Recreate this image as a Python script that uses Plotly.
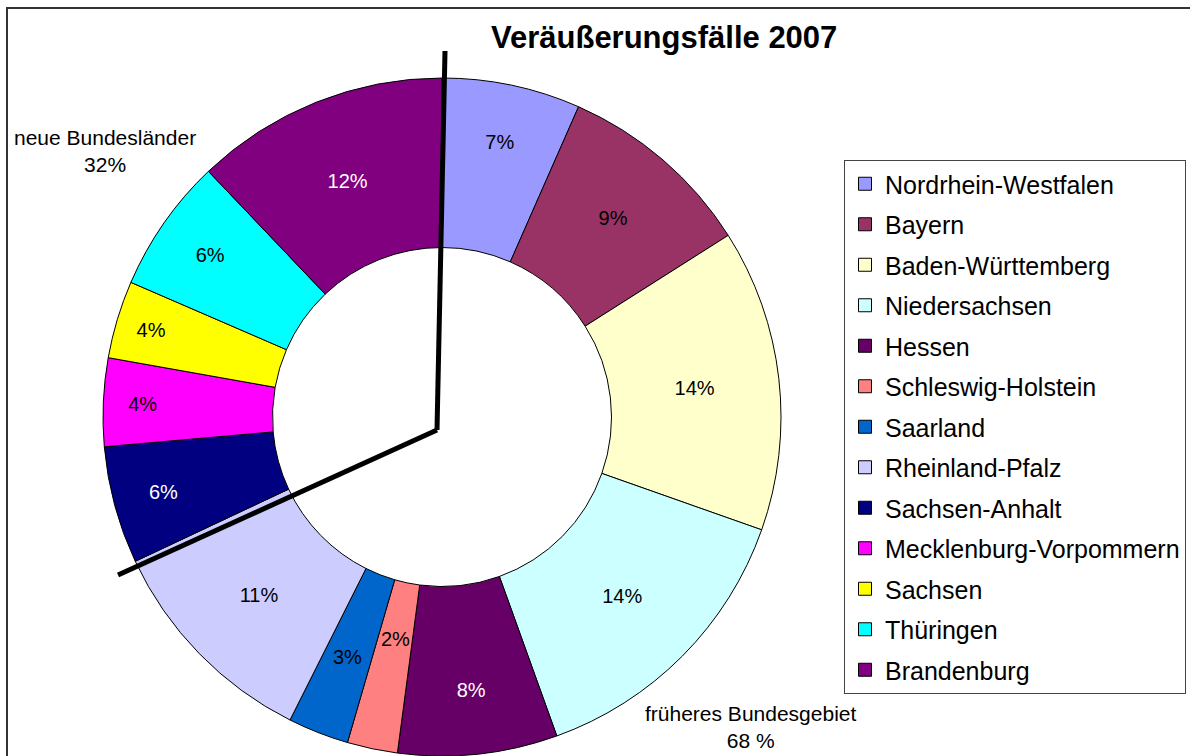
import math
import plotly.graph_objects as go

# ---- data ----
laender = ["Nordrhein-Westfalen", "Bayern", "Baden-Württemberg", "Niedersachsen",
           "Hessen", "Schleswig-Holstein", "Saarland", "Rheinland-Pfalz",
           "Sachsen-Anhalt", "Mecklenburg-Vorpommern", "Sachsen", "Thüringen",
           "Brandenburg"]
anteile = [6.6, 9.4, 14.4, 14.1, 7.6, 2.4, 2.9, 10.6, 5.6, 4.2, 3.7, 6.4, 12.1]
farben = ["#9999FF", "#993366", "#FFFFCC", "#CCFFFF", "#660066", "#FF8080",
          "#0066CC", "#CCCCFF", "#000080", "#FF00FF", "#FFFF00", "#00FFFF",
          "#800080"]
textfarben = ["#000000", "#000000", "#000000", "#000000", "#FFFFFF", "#000000",
              "#000000", "#000000", "#FFFFFF", "#000000", "#000000", "#000000",
              "#FFFFFF"]
n_alt = 8  # first 8 Länder = früheres Bundesgebiet
titel = "Veräußerungsfälle 2007"

W, H = 1190, 756
FONT = "Liberation Sans, Arial, sans-serif"
HOLE = 0.5
CX, CY, R = 442, 417, 339   # pie centre / radius in pixels (from domain below)

def px(x, y):
    return x / W, 1 - y / H

total = sum(anteile)
share_alt = round(sum(anteile[:n_alt]) / total * 100)
share_neu = round(sum(anteile[n_alt:]) / total * 100)
pct = [round(v / total * 100) for v in anteile]

# narrow slices: label placed manually at mid-angle of the slice (radial fraction)
small_label_r = {"Schleswig-Holstein": 0.67, "Saarland": 0.76}
textpos = ["none" if l in small_label_r else "inside" for l in laender]

fig = go.Figure()

fig.add_trace(go.Pie(
    labels=laender, values=anteile, sort=False, direction="clockwise",
    rotation=0, hole=HOLE,
    marker=dict(colors=farben, line=dict(color="#000000", width=1)),
    texttemplate="%{percent:.0%}", textposition=textpos,
    insidetextorientation="horizontal",
    textfont=dict(family=FONT, size=20, color=textfarben),
    showlegend=False, hoverinfo="label+percent",
    domain=dict(x=[(CX - R) / W, (CX + R) / W], y=[0, 2 * R / H]),
))

# legend entries (one group per Land for spacing control)
for name, col in zip(laender, farben):
    fig.add_trace(go.Scatter(
        x=[None], y=[None], mode="markers", name=name, legendgroup=name,
        marker=dict(symbol="square", size=13, color=col,
                    line=dict(color="#000000", width=1)),
        hoverinfo="skip",
    ))

annotations = []
# manual labels for narrow slices
cum = 0.0
for l, v, p, tc in zip(laender, anteile, pct, textfarben):
    mid = (cum + v / 2) / total
    cum += v
    if l in small_label_r:
        ang = 2 * math.pi * mid
        rr = small_label_r[l] * R
        x = CX + rr * math.sin(ang)
        y = CY - rr * math.cos(ang)
        ax, ay = px(x, y)
        annotations.append(dict(text=f"{p}%", x=ax, y=ay, xref="paper", yref="paper",
                                showarrow=False, xanchor="center", yanchor="middle",
                                font=dict(family=FONT, size=20, color=tc)))

shapes = []
# outer frame
x0, y0 = px(7, 8)
x1, y1 = px(1200, 770)
shapes.append(dict(type="rect", xref="paper", yref="paper", x0=x0, y0=y1, x1=x1, y1=y0,
                   line=dict(color="#333333", width=2)))
# separator line
pts = [(445, 51), (437, 430), (118, 575)]
for (a, b), (c, d) in zip(pts[:-1], pts[1:]):
    ax, ay = px(a, b)
    cx, cy = px(c, d)
    shapes.append(dict(type="line", xref="paper", yref="paper", x0=ax, y0=ay, x1=cx, y1=cy,
                       line=dict(color="#000000", width=5)))

tx, ty = px(664, 38)
annotations.append(dict(text="<b>" + titel + "</b>", x=tx, y=ty, xref="paper", yref="paper",
                        showarrow=False, xanchor="center", yanchor="middle",
                        font=dict(family=FONT, size=31, color="#000000")))
nx, ny = px(105, 151)
annotations.append(dict(text=f"neue Bundesländer<br>{share_neu}%", x=nx, y=ny,
                        xref="paper", yref="paper", showarrow=False,
                        xanchor="center", yanchor="middle", align="center",
                        font=dict(family=FONT, size=21, color="#000000")))
fx, fy = px(750, 727)
annotations.append(dict(text=f"früheres Bundesgebiet<br>{share_alt} %", x=fx, y=fy,
                        xref="paper", yref="paper", showarrow=False,
                        xanchor="center", yanchor="middle", align="center",
                        font=dict(family=FONT, size=21, color="#000000")))

lx, ly = px(844, 160)
fig.update_layout(
    width=W, height=H, margin=dict(l=0, r=0, t=0, b=0),
    paper_bgcolor="#FFFFFF", plot_bgcolor="#FFFFFF",
    xaxis=dict(visible=False), yaxis=dict(visible=False),
    shapes=shapes, annotations=annotations,
    uniformtext=dict(minsize=20, mode="show"),
    legend=dict(x=lx, y=ly, xanchor="left", yanchor="top",
                bordercolor="#444444", borderwidth=1, bgcolor="#FFFFFF",
                font=dict(family=FONT, size=25, color="#000000"),
                tracegroupgap=5, traceorder="grouped"),
)

fig.write_html("out.html", config={"displayModeBar": False},
               post_script="document.body.style.margin='0';document.body.style.padding='0';")
